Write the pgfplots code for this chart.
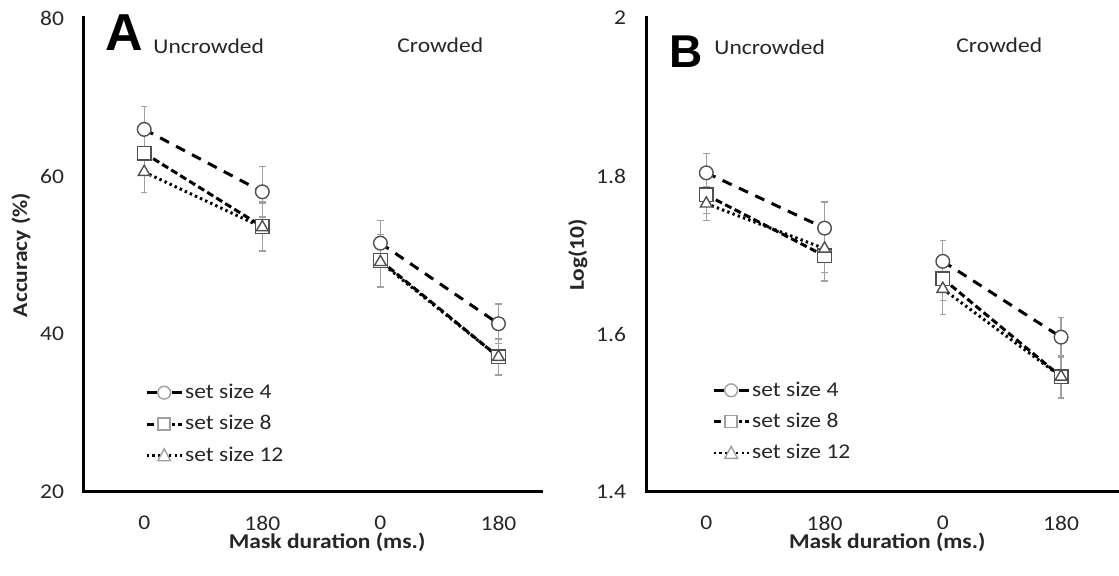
\documentclass[border=0pt]{standalone}
\usepackage{fontspec}
\setmainfont{Carlito}[FakeStretch=1.12]
\newfontfamily\letterfont{Liberation Sans}
\usepackage{pgfplots}
\usepackage{pgfplotstable}
\pgfplotsset{compat=1.18}

\definecolor{mkedge}{HTML}{505050}
\definecolor{legmk}{HTML}{A0A0A0}
\definecolor{errc}{HTML}{A0A0A0}

% x y e  (categories 1..4, jump between the two halves)
\pgfplotstableread{
x y e
1 65.9 2.9
2 58.0 3.2
2.5 nan nan
3 51.5 2.9
4 41.3 2.5
}\Afour
\pgfplotstableread{
x y e
1 62.9 2.8
2 53.6 3.1
2.5 nan nan
3 49.3 3.3
4 37.1 2.3
}\Aeight
\pgfplotstableread{
x y e
1 60.5 2.6
2 53.5 3.0
2.5 nan nan
3 49.1 3.2
4 37.1 2.2
}\Atwelve
\pgfplotstableread{
x y e
1 1.804 0.024
2 1.734 0.033
2.5 nan nan
3 1.692 0.026
4 1.596 0.025
}\Bfour
\pgfplotstableread{
x y e
1 1.776 0.023
2 1.699 0.032
2.5 nan nan
3 1.670 0.028
4 1.546 0.027
}\Beight
\pgfplotstableread{
x y e
1 1.765 0.021
2 1.708 0.030
2.5 nan nan
3 1.657 0.032
4 1.546 0.027
}\Btwelve

\newcommand\txt{\fontsize{10.5}{12.6}\selectfont}

\tikzset{
  s4/.style={black, line width=1.5pt, dash pattern=on 5pt off 4pt},
  s8/.style={black, line width=1.5pt, dash pattern=on 3.5pt off 1.8pt},
  s12/.style={black, line width=1.5pt, dash pattern=on 1.2pt off 1.6pt},
  lm/.style={legmk, fill=white, line width=0.7pt, solid},
}

\pgfplotsset{
  panel/.style={
    scale only axis, anchor=south west,
    axis x line*=bottom, axis y line*=left,
    axis line style={-, line width=1.5pt, line cap=rect},
    major tick length=0pt, tick style={draw=none},
    xtick={1,2,3,4}, xticklabels={0,180,0,180},
    ticklabel style={font=\txt, text=black!85},
    /pgf/number format/assume math mode=true,
    yticklabel style={xshift=-6.5pt},
    xticklabel style={yshift=-8.5pt},
    label style={font=\txt\bfseries, text=black!85},
    xlabel={Mask duration (ms.)},
    unbounded coords=jump,
    clip=false,
    legend style={draw=none, fill=none, font=\txt, text=black!85,
      row sep=5pt, inner sep=0pt,
      nodes={inner sep=1pt, anchor=west}},
    legend cell align=left,
  },
  errs/.style={error bars/.cd, y dir=both, y explicit,
    error bar style={color=errc, line width=0.6pt, solid},
    error mark options={rotate=90, mark size=1.6pt, color=errc, line width=0.6pt, solid}},
  mk/.style={only marks, forget plot, mark size=3.4pt,
    mark options={draw=mkedge, fill=white, line width=0.7pt, solid}},
  leg4/.style={legend image code/.code={
    \draw[black, line width=1.5pt] (0pt,0pt) -- (5pt,0pt) (12.5pt,0pt) -- (17.5pt,0pt);
    \draw[lm] (8.75pt,0pt) circle (3.2pt);}},
  leg8/.style={legend image code/.code={
    \draw[black, line width=1.5pt] (0pt,0pt) -- (5pt,0pt);
    \draw[black, line width=1.5pt] (12.8pt,0pt) -- (14.3pt,0pt) (15.9pt,0pt) -- (17.5pt,0pt);
    \draw[lm] (5.75pt,-3pt) rectangle (11.75pt,3pt);}},
  leg12/.style={legend image code/.code={
    \draw[s12, line width=1.2pt] (0pt,0pt) -- (17.5pt,0pt);
    \draw[lm] (5.55pt,-2.6pt) -- (11.95pt,-2.6pt) -- (8.75pt,3.4pt) -- cycle;}},
}

\begin{document}
\begin{tikzpicture}
\useasboundingbox (0,0) rectangle (559.5pt,288pt);

\begin{axis}[panel, at={(42pt,42pt)}, width=228.5pt, height=237pt,
  xmin=0.49, xmax=4.36, ymin=20, ymax=80, ytick={20,40,60,80},
  ylabel={Accuracy (\%)},
  ylabel style={at={(axis description cs:-0.138,0.5)}, anchor=center},
  xlabel style={at={(axis description cs:0.532,0)}, anchor=base, yshift=-28.5pt},
  legend style={at={(axis description cs:0.133,0.233)}, anchor=north west}]
\addplot[s4, leg4, errs] table[x=x, y=y, y error=e] {\Afour};
\addlegendentry{set size 4}
\addplot[s8, leg8, errs] table[x=x, y=y, y error=e] {\Aeight};
\addlegendentry{set size 8}
\addplot[s12, leg12, errs] table[x=x, y=y, y error=e] {\Atwelve};
\addlegendentry{set size 12}
\addplot[mk, mark=*] table[x=x, y=y] {\Afour};
\addplot[mk, mark=square*] table[x=x, y=y] {\Aeight};
\addplot[mk, mark=triangle*] table[x=x, y=y] {\Atwelve};
\end{axis}

\begin{axis}[panel, at={(323pt,42pt)}, width=236.5pt, height=237pt,
  xmin=0.49, xmax=4.49, ymin=1.4, ymax=2, ytick={1.4,1.6,1.8,2},
  ylabel={Log(10)},
  ylabel style={at={(axis description cs:-0.144,0.5)}, anchor=center},
  xlabel style={at={(axis description cs:0.51,0)}, anchor=base, yshift=-28.5pt},
  legend style={at={(axis description cs:0.139,0.238)}, anchor=north west}]
\addplot[s4, leg4, errs] table[x=x, y=y, y error=e] {\Bfour};
\addlegendentry{set size 4}
\addplot[s8, leg8, errs] table[x=x, y=y, y error=e] {\Beight};
\addlegendentry{set size 8}
\addplot[s12, leg12, errs] table[x=x, y=y, y error=e] {\Btwelve};
\addlegendentry{set size 12}
\addplot[mk, mark=*] table[x=x, y=y] {\Bfour};
\addplot[mk, mark=square*] table[x=x, y=y] {\Beight};
\addplot[mk, mark=triangle*] table[x=x, y=y] {\Btwelve};
\end{axis}

% panel letters and condition headings
\node[anchor=base west, inner sep=0pt, font=\letterfont\bfseries\fontsize{26}{26}\selectfont] at (52.5pt,262.5pt) {A};
\node[anchor=base west, inner sep=0pt, font=\txt, text=black!85] at (76.5pt,261pt) {Uncrowded};
\node[anchor=base west, inner sep=0pt, font=\txt, text=black!85] at (198.5pt,261.5pt) {Crowded};
\node[anchor=base west, inner sep=0pt, font=\letterfont\bfseries\fontsize{23}{23}\selectfont] at (334.5pt,254pt) {B};
\node[anchor=base west, inner sep=0pt, font=\txt, text=black!85] at (357pt,260.5pt) {Uncrowded};
\node[anchor=base west, inner sep=0pt, font=\txt, text=black!85] at (478pt,261.5pt) {Crowded};
\end{tikzpicture}
\end{document}
